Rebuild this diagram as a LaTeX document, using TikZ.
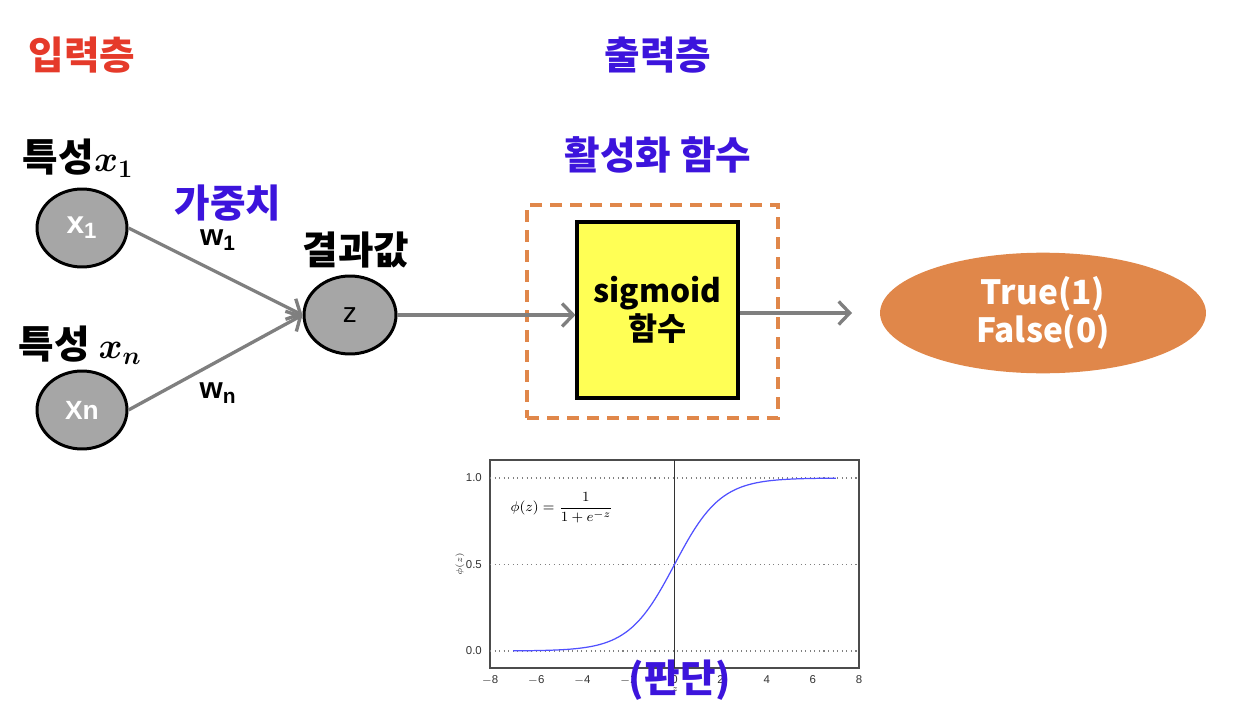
\documentclass[tikz,border=0pt]{standalone}
\usepackage{amsmath}
\usepackage{fontspec}
\setmainfont{Noto Sans CJK KR}
\setsansfont{Liberation Sans}
\usepackage{tikz}
\usetikzlibrary{arrows.meta,positioning,shapes.geometric}

\definecolor{layerred}{HTML}{E53A2A}
\definecolor{labelblue}{HTML}{3C14DC}
\definecolor{nodegray}{HTML}{A6A6A6}
\definecolor{arrgray}{HTML}{7F7F7F}
\definecolor{boxyellow}{HTML}{FFFF55}
\definecolor{outorange}{HTML}{E0874A}
\definecolor{curveblue}{HTML}{5050FF}

\begin{document}
\begin{tikzpicture}[
    x=0.02cm, y=-0.02cm,
    node distance=0.1cm and 0.1cm,
    neuron/.style={ellipse, draw, line width=1.7pt, fill=nodegray, inner sep=0pt,
      minimum width=1.8cm, minimum height=1.56cm},
    head/.style={font=\fontsize{22}{26}\selectfont\bfseries},
    wlab/.style={font=\sffamily\fontsize{17}{20}\selectfont\bfseries},
    arr/.style={-{Straight Barb[length=2.2mm, width=4.6mm]}, line width=1.9pt, draw=arrgray},
    tick/.style={font=\sffamily\fontsize{6.5}{7}\selectfont, text=black!80}
  ]
    \useasboundingbox (0,0) rectangle (1246,716);

    % layer titles
    \node[head, text=layerred] (tin) at (82,55) {입력층};
    \node[head, text=labelblue] (tout) at (658,55) {출력층};

    % input neurons
    \node[neuron, font=\sffamily\fontsize{18}{20}\selectfont\bfseries, text=white] (in1) at (82,228) {x\textsubscript{1}};
    \node[neuron, font=\sffamily\fontsize{15}{18}\selectfont\bfseries, text=white] (inn) at (82,410) {Xn};
    \node[head] (f1) at (78,158) {특성$\boldsymbol{x_1}$};
    \node[head] (fn) at (80,345) {특성 $\boldsymbol{x_n}$};

    % net input
    \node[neuron, minimum width=1.84cm, font=\sffamily\fontsize{16}{18}\selectfont] (zz) at (350,315) {z};
    \node[head] (res) at (356,250) {결과값};

    \node[head, text=labelblue] (wgt) at (228,203) {가중치};
    \node[wlab] (w1) at (218,240) {w\textsubscript{1}};
    \node[wlab] (wn) at (218,393) {w\textsubscript{n}};

    \draw[arr] (in1.east) -- (zz.west);
    \draw[arr] (inn.east) -- (zz.west);

    % activation
    \node[head, text=labelblue] (actlab) at (658,155) {활성화 함수};
    \node[draw=outorange, dashed, dash pattern=on 0.24cm off 0.16cm, line width=2pt,
      minimum width=5.02cm, minimum height=4.26cm] (actfr) at (652.5,311.5) {};
    \node[draw, line width=1.8pt, fill=boxyellow, minimum width=3.22cm, minimum height=3.52cm,
      align=center, font=\fontsize{18}{22}\selectfont\bfseries] (act) at (657.5,310) {sigmoid\\함수};
    \draw[arr] (zz.east) -- (act.west |- zz.east);

    % output
    \node[ellipse, fill=outorange, text=white, minimum width=6.52cm, minimum height=1.92cm,
      align=center, font=\fontsize{19}{22}\selectfont\bfseries] (out) at (1043,313) {True(1)\\False(0)};
    \coordinate (outend) at (852,313);
    \draw[arr] (act.east |- outend) -- (outend);

    % sigmoid plot
    \draw[black!70, line width=0.8pt] (490,460) rectangle (859,668);
    \foreach \v/\yy in {1.0/478, 0.5/564.5, 0.0/651} {
      \draw[black!50, dotted, line width=0.6pt] (490,\yy) -- (859,\yy);
      \node[tick, left] at (488,\yy) {\v};
    }
    \foreach \t in {-8,-6,...,8} {
      \node[tick, below] at ({674.5+23.06*\t},669) {$\mathsf{\t}$};
    }
    \draw[black!80, line width=0.8pt] (674.5,460) -- (674.5,668);
    \draw[curveblue, line width=0.7pt] plot[domain=-7:7, samples=90, smooth]
      ({674.5+23.06*\x}, {651-173/(1+exp(-\x))});
    \node[font=\fontsize{8.5}{10}\selectfont] (phi) at (562,508) {$\phi(z) = \dfrac{1}{1+e^{-z}}$};
    \node[tick, rotate=90, font=\fontsize{4}{5}\selectfont] (ylab) at (460,564) {$\phi(z)$};
    \node[tick, font=\fontsize{4}{5}\selectfont] (xlab) at (675,690) {$z$};
    \node[head, text=labelblue] (judge) at (680,680) {(판단)};
\end{tikzpicture}
\end{document}
